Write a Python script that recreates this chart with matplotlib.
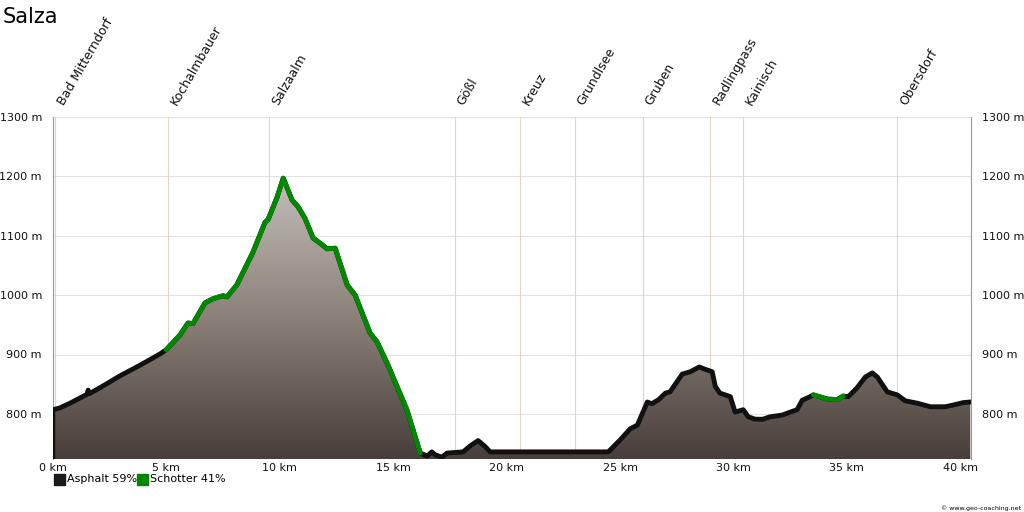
import numpy as np
import matplotlib
matplotlib.use("Agg")
import matplotlib.pyplot as plt
from matplotlib.colors import LinearSegmentedColormap
from matplotlib.patches import Rectangle

# Höhenprofil (km, m)
km = [0.0, 0.3, 0.75, 1.2, 1.5, 1.55, 1.6, 2.07, 2.95, 3.84, 4.72, 4.99,
      5.6, 5.95, 6.17, 6.7, 7.06, 7.5, 7.67, 8.1, 8.8, 9.35, 9.48, 9.88, 10.15,
      10.54, 10.8, 11.1, 11.47, 11.86, 12.08, 12.44, 12.97, 13.32, 13.98, 14.29,
      14.77, 14.99, 15.6, 16.19,
      16.5, 16.7, 16.85, 17.15, 17.37, 18.08, 18.39, 18.74, 19.05, 19.27, 20.6,
      22.67, 24.48, 25.0, 25.45, 25.76, 26.2, 26.4, 26.7, 27.0, 27.2, 27.74, 28.1,
      28.49, 28.75, 29.06, 29.2, 29.4, 29.86, 30.07, 30.43, 30.65, 30.96, 31.3,
      31.6, 32.15, 32.5, 32.8, 33.03, 33.38, 33.52,
      34.13, 34.57, 34.84,
      35.06, 35.45, 35.81, 36.12, 36.34, 36.78, 37.22, 37.57, 38.1, 38.68, 39.34,
      39.7, 40.13, 40.44]
hoehe = [807, 810, 818, 827, 833, 840, 834, 844, 864, 882, 901, 908,
         933, 953, 952, 987, 994, 999, 997, 1017, 1071, 1123, 1127, 1165, 1197,
         1160, 1149, 1130, 1096, 1085, 1078, 1079, 1017, 1000, 936, 921,
         882, 862, 807, 734,
         729, 736, 731, 727, 734, 736, 746, 755, 745, 736, 736,
         736, 736, 756, 775, 781, 820, 817, 824, 835, 837, 867, 871,
         879, 875, 871, 846, 835, 829, 803, 807, 795, 791, 791,
         795, 798, 803, 807, 823, 829, 832,
         825, 824, 830,
         829, 844, 862, 869, 862, 837, 832, 822, 818, 812, 812,
         815, 819, 820]

# Belag-Abschnitte (von km, bis km)
schotter = [(4.99, 16.19), (33.52, 34.84)]

orte = ["Bad Mitterndorf", "Kochalmbauer", "Salzaalm", "Gößl", "Kreuz",
        "Grundlsee", "Gruben", "Radlingpass", "Kainisch", "Obersdorf"]
orte_km = [0.09, 5.07, 9.53, 17.73, 20.6, 23.02, 26.02, 28.97, 30.43, 37.22]

y_ticks = [800, 900, 1000, 1100, 1200, 1300]
x_ticks = [0, 5, 10, 15, 20, 25, 30, 35, 40]

x = np.array(km)
y = np.array(hoehe)
ymin, ymax = 724, 1300
xmax = 40.47

fig = plt.figure(figsize=(10.24, 5.12), dpi=100)
ax = fig.add_axes([53 / 1024, 1 - 459 / 512, 918 / 1024, 342 / 512])
ax.set_xlim(0, xmax)
ax.set_ylim(ymin, ymax)

# Gitter
for t in y_ticks:
    ax.axhline(t, color="#e2e2e2", lw=0.8, zorder=0)
for k in orte_km:
    ax.axvline(k, color="#e4d2c9", lw=0.8, zorder=0)

# Fläche mit Farbverlauf
cmap = LinearSegmentedColormap.from_list("berg", ["#483e3b", "#8a8077", "#c4bdb9"])
poly = ax.fill_between(x, y, ymin, color="none", lw=0)
grad = np.linspace(0, 1, 256).reshape(-1, 1)
img = ax.imshow(grad, cmap=cmap, aspect="auto", origin="lower",
                extent=[0, xmax, ymin, 1197], zorder=1)
img.set_clip_path(poly.get_paths()[0], transform=ax.transData)

# Linie
ax.plot(x, y, color="#111111", lw=3.5, solid_capstyle="round",
        solid_joinstyle="round", zorder=3)
ax.plot([0, 0], [ymin, y[0]], color="#111111", lw=2.5, zorder=3)
for a, b in schotter:
    m = (x >= a) & (x <= b)
    ax.plot(x[m], y[m], color="#008800", lw=3.5, solid_capstyle="round",
            solid_joinstyle="round", zorder=4)

# Achsen
for s in ["top", "bottom"]:
    ax.spines[s].set_visible(False)
ax.spines["left"].set_color("#999999")
ax.spines["right"].set_color("#999999")
ax.spines["left"].set_linewidth(0.8)
ax.spines["right"].set_linewidth(0.8)
ax.set_yticks(y_ticks)
ax.set_yticklabels([f"{t} m" for t in y_ticks])
ax.set_xticks(x_ticks)
ax.set_xticklabels([f"{t} km" for t in x_ticks])
ax.tick_params(axis="both", length=0, labelsize=8, colors="#111111")
ax.tick_params(axis="y", pad=8, labelright=True)
ax.tick_params(axis="x", pad=3)

# Ortsnamen
for name, k in zip(orte, orte_km):
    ax.annotate(name, xy=(k, ymax), xytext=(8, 7), textcoords="offset points",
                rotation=60, rotation_mode="anchor", ha="left", va="bottom",
                fontsize=9, color="#111111")

fig.text(3 / 1024, 1 - 17 / 512, "Salza", fontsize=15, va="center", ha="left")

# Legende
fig.add_artist(Rectangle((54 / 1024, 1 - 485 / 512), 11 / 1024, 11 / 512,
                         transform=fig.transFigure, color="#1a1a1a"))
fig.text(67 / 1024, 1 - 479 / 512, "Asphalt 59%", fontsize=8, va="center")
fig.add_artist(Rectangle((137 / 1024, 1 - 485 / 512), 11 / 1024, 11 / 512,
                         transform=fig.transFigure, color="#008800"))
fig.text(150 / 1024, 1 - 479 / 512, "Schotter 41%", fontsize=8, va="center")

fig.text(1021 / 1024, 1 - 508 / 512, "© www.geo-coaching.net", fontsize=4.5,
         ha="right", va="center")

fig.savefig("out.png", dpi=100)
